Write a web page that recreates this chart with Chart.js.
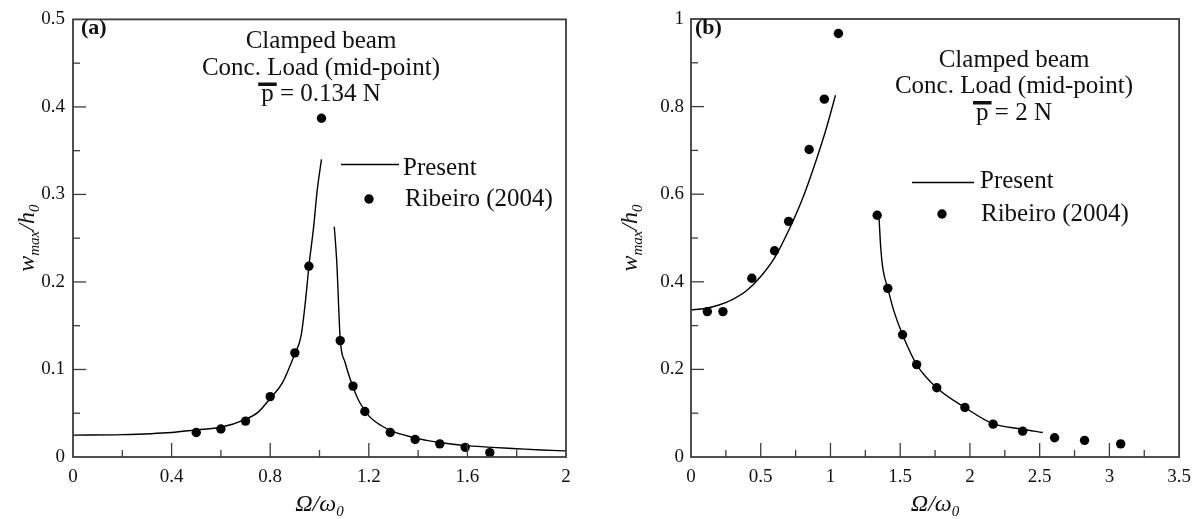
<!DOCTYPE html>
<html><head><meta charset="utf-8">
<script src="https://cdn.jsdelivr.net/npm/chart.js@4.4.1/dist/chart.umd.min.js"></script>
<style>
html,body{margin:0;padding:0;background:#fff;width:1200px;height:519px;overflow:hidden}
canvas{position:absolute;top:0}
#c1{left:0}
#c2{left:600px}
</style></head><body>
<canvas id="c1" width="600" height="519"></canvas>
<canvas id="c2" width="600" height="519"></canvas>
<script>
// ---------------- DATA ----------------
// Panel (a)
const leftPresentX1 = [0, 0.2, 0.4, 0.5, 0.6, 0.7, 0.75, 0.8, 0.85, 0.9, 0.925, 0.943, 0.957, 0.977, 0.99, 1.008];
const leftPresentY1 = [0.025, 0.0256, 0.028, 0.031, 0.034, 0.043, 0.051, 0.067, 0.085, 0.118, 0.138, 0.178, 0.218, 0.265, 0.303, 0.34];
const leftPresentX2 = [1.06, 1.07, 1.084, 1.104, 1.136, 1.16, 1.2, 1.25, 1.3, 1.4, 1.5, 1.6, 1.7, 1.8, 1.9, 2.0];
const leftPresentY2 = [0.263, 0.223, 0.135, 0.108, 0.08, 0.064, 0.047, 0.036, 0.029, 0.021, 0.016, 0.013, 0.011, 0.0095, 0.008, 0.007];
const leftRibeiroX = [0.5, 0.6, 0.7, 0.8, 0.9, 0.957, 1.008, 1.084, 1.136, 1.184, 1.287, 1.388, 1.488, 1.591, 1.691];
const leftRibeiroY = [0.028, 0.032, 0.041, 0.069, 0.119, 0.218, 0.387, 0.133, 0.081, 0.052, 0.028, 0.020, 0.015, 0.011, 0.005];

const leftXTicks = [0, 0.4, 0.8, 1.2, 1.6, 2];
const leftXTickLabels = ['0', '0.4', '0.8', '1.2', '1.6', '2'];
const leftXMinor = [0.2, 0.6, 1.0, 1.4, 1.8];
const leftYTicks = [0, 0.1, 0.2, 0.3, 0.4, 0.5];
const leftYTickLabels = ['0', '0.1', '0.2', '0.3', '0.4', '0.5'];
const leftYMinor = [0.05, 0.15, 0.25, 0.35, 0.45];

// Panel (b)
const rightPresentX1 = [0, 0.1, 0.2, 0.3, 0.4, 0.5, 0.6, 0.7, 0.8, 0.9, 0.97, 1.036];
const rightPresentY1 = [0.336, 0.339, 0.347, 0.36, 0.38, 0.412, 0.455, 0.517, 0.59, 0.68, 0.75, 0.826];
const rightPresentX2 = [1.348, 1.36, 1.375, 1.411, 1.455, 1.517, 1.618, 1.762, 1.964, 2.166, 2.37, 2.522];
const rightPresentY2 = [0.548, 0.48, 0.432, 0.385, 0.333, 0.279, 0.211, 0.158, 0.113, 0.076, 0.064, 0.056];
const rightRibeiroX = [0.117, 0.229, 0.436, 0.599, 0.700, 0.847, 0.956, 1.057, 1.335, 1.411, 1.517, 1.618, 1.762, 1.964, 2.166, 2.378, 2.607, 2.822, 3.081];
const rightRibeiroY = [0.332, 0.332, 0.408, 0.471, 0.538, 0.702, 0.817, 0.967, 0.552, 0.385, 0.279, 0.211, 0.158, 0.113, 0.075, 0.059, 0.044, 0.038, 0.030];

const rightXTicks = [0, 0.5, 1, 1.5, 2, 2.5, 3, 3.5];
const rightXTickLabels = ['0', '0.5', '1', '1.5', '2', '2.5', '3', '3.5'];
const rightXMinor = [0.25, 0.75, 1.25, 1.75, 2.25, 2.75, 3.25];
const rightYTicks = [0, 0.2, 0.4, 0.6, 0.8, 1];
const rightYTickLabels = ['0', '0.2', '0.4', '0.6', '0.8', '1'];
const rightYMinor = [0.1, 0.3, 0.5, 0.7, 0.9];

const seriesNames = ['Present', 'Ribeiro (2004)'];
const leftNote = ['Clamped beam', 'Conc. Load (mid-point)'];
const leftLoad = ['p', ' = 0.134 N'];
const rightNote = ['Clamped beam', 'Conc. Load (mid-point)'];
const rightLoad = ['p', ' = 2 N'];
const panelLabels = ['(a)', '(b)'];

// ---------------- RENDERING ----------------
const SERIF = '"Liberation Serif", "Times New Roman", serif';
const INK = '#111';
const AXIS = '#3c3c3c';

function pts(xs, ys) { return xs.map((x, i) => ({ x: x, y: ys[i] })); }

function richWidth(ctx, parts) {
  let w = 0;
  parts.forEach(p => { ctx.font = p.font; w += ctx.measureText(p.t).width; });
  return w;
}
function drawRich(ctx, parts, x, y) {
  let cx = x;
  parts.forEach(p => {
    ctx.font = p.font;
    ctx.fillText(p.t, cx, y + (p.dy || 0));
    cx += ctx.measureText(p.t).width;
  });
}

const decor = {
  id: 'decor',
  afterDatasetsDraw(chart, args, o) {
    const ctx = chart.ctx, ca = chart.chartArea;
    const xs = chart.scales.x, ys = chart.scales.y;
    ctx.save();
    // inward ticks
    ctx.strokeStyle = AXIS; ctx.lineWidth = 1.3;
    const seg = (a, b, c, d) => { ctx.beginPath(); ctx.moveTo(a, b); ctx.lineTo(c, d); ctx.stroke(); };
    o.xMajor.forEach(v => { if (v > xs.min && v < xs.max) { const p = xs.getPixelForValue(v); seg(p, ca.bottom, p, ca.bottom - 14); } });
    o.xMinor.forEach(v => { const p = xs.getPixelForValue(v); seg(p, ca.bottom, p, ca.bottom - 7); });
    o.yMajor.forEach(v => { if (v > ys.min && v < ys.max) { const p = ys.getPixelForValue(v); seg(ca.left, p, ca.left + 13, p); } });
    o.yMinor.forEach(v => { const p = ys.getPixelForValue(v); seg(ca.left, p, ca.left + 7, p); });
    // frame
    ctx.lineWidth = 1.8;
    ctx.strokeRect(ca.left, ca.top, ca.right - ca.left, ca.bottom - ca.top);

    ctx.fillStyle = INK;
    ctx.textBaseline = 'alphabetic';
    // panel label
    ctx.font = 'bold 22px ' + SERIF; ctx.textAlign = 'left';
    ctx.fillText(o.panel, o.panelX, o.panelY);

    // annotation
    ctx.font = o.noteFont; ctx.textAlign = 'center';
    o.note.forEach((t, i) => ctx.fillText(t, o.noteX, o.noteY[i]));
    ctx.textAlign = 'left';
    const wP = ctx.measureText(o.load[0]).width;
    const wAll = ctx.measureText(o.load[0] + o.load[1]).width;
    const lx = o.noteX - wAll / 2;
    ctx.fillText(o.load[0] + o.load[1], lx, o.loadY);
    ctx.fillRect(lx - 3, o.loadY - 18.5, wP + 6, 3.5);

    // legend
    const dsLine = chart.data.datasets.find(d => d.label === seriesNames[0]);
    const dsPt = chart.data.datasets.find(d => d.label === seriesNames[1]);
    ctx.font = o.legendFont;
    ctx.strokeStyle = dsLine.borderColor; ctx.lineWidth = dsLine.borderWidth;
    seg(o.leg.lx1, o.leg.ly, o.leg.lx2, o.leg.ly);
    ctx.fillText(dsLine.label, o.leg.t1x, o.leg.t1y);
    ctx.beginPath(); ctx.arc(o.leg.px, o.leg.py, dsPt.pointRadius, 0, Math.PI * 2);
    ctx.fillStyle = dsPt.pointBackgroundColor; ctx.fill();
    ctx.fillStyle = INK;
    ctx.fillText(dsPt.label, o.leg.t2x, o.leg.t2y);

    // axis titles
    const big = 'italic 24px ' + SERIF, small = 'italic 15px ' + SERIF;
    const xt = [{ t: 'Ω/ω', font: big }, { t: '0', font: small, dy: 5 }];
    const xw = richWidth(ctx, xt);
    drawRich(ctx, xt, (ca.left + ca.right) / 2 - xw / 2, o.xTitleY);
    const yt = [{ t: 'w', font: big }, { t: 'max', font: small, dy: 5 }, { t: '/h', font: big }, { t: '0', font: small, dy: 5 }];
    const yw = richWidth(ctx, yt);
    ctx.translate(o.yTitleX, (ca.top + ca.bottom) / 2);
    ctx.rotate(-Math.PI / 2);
    drawRich(ctx, yt, -yw / 2, 0);
    ctx.restore();
  }
};

function makeChart(id, cfg) {
  const datasets = [
    { label: seriesNames[1], data: pts(cfg.rx, cfg.ry), showLine: false, pointRadius: 4.7, pointBackgroundColor: '#000', pointBorderWidth: 0, pointBorderColor: '#000', order: 0 },
    { label: seriesNames[0], data: pts(cfg.l1x, cfg.l1y), showLine: true, pointRadius: 0, borderColor: '#000', borderWidth: 1.4, cubicInterpolationMode: 'monotone', order: 1 },
    { label: seriesNames[0], data: pts(cfg.l2x, cfg.l2y), showLine: true, pointRadius: 0, borderColor: '#000', borderWidth: 1.4, cubicInterpolationMode: 'monotone', order: 1 }
  ];
  return new Chart(document.getElementById(id), {
    type: 'scatter',
    data: { datasets },
    plugins: [decor],
    options: {
      responsive: false, animation: false, devicePixelRatio: 1,
      layout: { padding: { top: 19, right: cfg.padRight, left: 0, bottom: 0 } },
      plugins: { legend: { display: false }, tooltip: { enabled: false }, decor: cfg.decor },
      scales: {
        x: {
          type: 'linear', min: cfg.xTicks[0], max: cfg.xTicks[cfg.xTicks.length - 1],
          grid: { display: false, drawTicks: false }, border: { display: false },
          afterBuildTicks: s => { s.ticks = cfg.xTicks.map(v => ({ value: v })); },
          afterFit: s => { s.height = 62; },
          ticks: { autoSkip: false, maxRotation: 0, padding: 9, color: INK, font: { family: SERIF, size: 19 },
                   callback: (v, i) => cfg.xLabels[i] }
        },
        y: {
          type: 'linear', min: cfg.yTicks[0], max: cfg.yTicks[cfg.yTicks.length - 1],
          grid: { display: false, drawTicks: false }, border: { display: false },
          afterBuildTicks: s => { s.ticks = cfg.yTicks.map(v => ({ value: v })); },
          afterFit: s => { s.width = cfg.yWidth; },
          ticks: { autoSkip: false, padding: cfg.yPad, color: INK, font: { family: SERIF, size: 19 },
                   callback: (v, i) => cfg.yLabels[i] }
        }
      }
    }
  });
}

makeChart('c1', {
  rx: leftRibeiroX, ry: leftRibeiroY, l1x: leftPresentX1, l1y: leftPresentY1, l2x: leftPresentX2, l2y: leftPresentY2,
  xTicks: leftXTicks, xLabels: leftXTickLabels, yTicks: leftYTicks, yLabels: leftYTickLabels,
  padRight: 34, yWidth: 73, yPad: 8,
  decor: {
    xMajor: leftXTicks, xMinor: leftXMinor, yMajor: leftYTicks, yMinor: leftYMinor,
    panel: panelLabels[0], panelX: 81, panelY: 34,
    noteFont: '25px ' + SERIF, note: leftNote, noteX: 321, noteY: [48, 74.5], load: leftLoad, loadY: 101,
    legendFont: '25px ' + SERIF,
    leg: { lx1: 341, lx2: 399, ly: 164.5, t1x: 403, t1y: 174.5, px: 369, py: 199, t2x: 405, t2y: 206 },
    xTitleY: 511, yTitleX: 34
  }
});

makeChart('c2', {
  rx: rightRibeiroX, ry: rightRibeiroY, l1x: rightPresentX1, l1y: rightPresentY1, l2x: rightPresentX2, l2y: rightPresentY2,
  xTicks: rightXTicks, xLabels: rightXTickLabels, yTicks: rightYTicks, yLabels: rightYTickLabels,
  padRight: 19, yWidth: 91, yPad: 7,
  decor: {
    xMajor: rightXTicks, xMinor: rightXMinor, yMajor: rightYTicks, yMinor: rightYMinor,
    panel: panelLabels[1], panelX: 95, panelY: 34,
    noteFont: '25px ' + SERIF, note: rightNote, noteX: 414, noteY: [66.5, 93], load: rightLoad, loadY: 119.5,
    legendFont: '25px ' + SERIF,
    leg: { lx1: 312, lx2: 374, ly: 182.5, t1x: 380, t1y: 187.5, px: 342, py: 214, t2x: 381, t2y: 220.5 },
    xTitleY: 511, yTitleX: 37
  }
});
</script>
</body></html>
